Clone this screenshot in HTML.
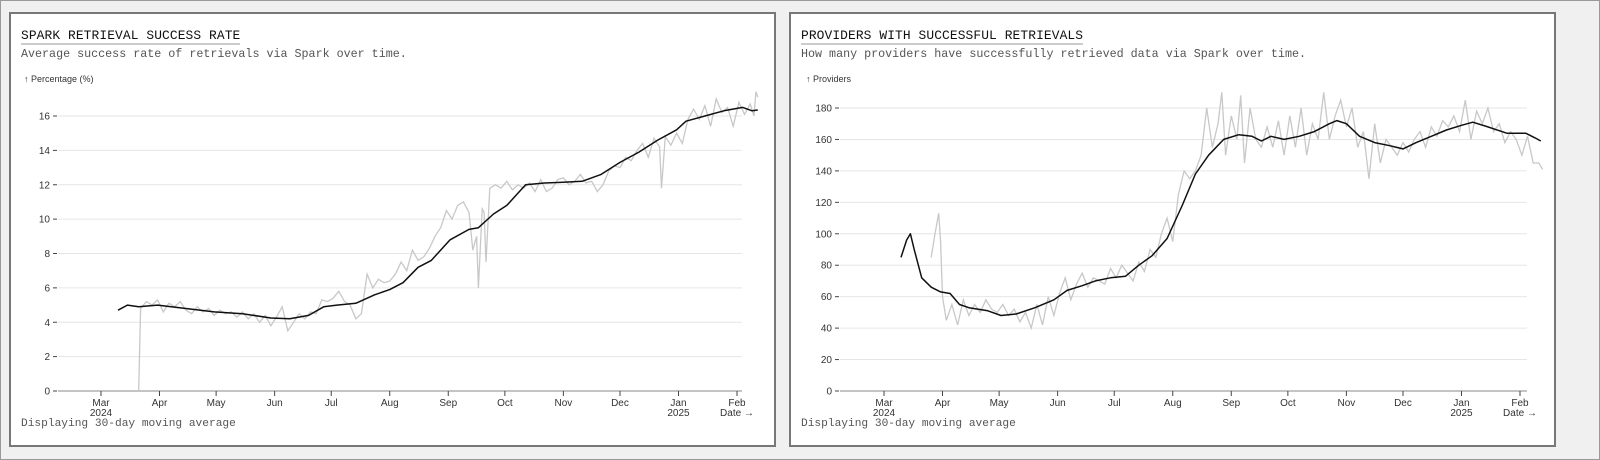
<!DOCTYPE html>
<html><head><meta charset="utf-8"><style>
body{margin:0;width:1600px;height:460px;background:#f0f0f0;position:relative;overflow:hidden;font-family:"Liberation Mono",monospace}
.frame{position:absolute;left:0;top:0;width:1598px;height:458px;border:1px solid #999}
.panel{position:absolute;top:12px;width:763px;height:431px;background:#fff;border:2px solid #777}
.title{position:absolute;left:10px;top:14px;font-size:12.9px;color:#111;border-bottom:2px solid #ccc;padding-bottom:0px;letter-spacing:0.1px}
.sub{position:absolute;left:10px;top:33px;font-size:11.7px;color:#555}
.foot{position:absolute;left:10px;top:404px;font-size:11.2px;color:#555}
svg{position:absolute;left:0;top:0}
</style></head><body>
<div class="frame"></div>
<div class="panel" style="left:9px">
<div class="title">SPARK RETRIEVAL SUCCESS RATE</div>
<div class="sub">Average success rate of retrievals via Spark over time.</div>
<div class="foot">Displaying 30-day moving average</div>
</div>
<div class="panel" style="left:789px">
<div class="title">PROVIDERS WITH SUCCESSFUL RETRIEVALS</div>
<div class="sub">How many providers have successfully retrieved data via Spark over time.</div>
<div class="foot">Displaying 30-day moving average</div>
</div>
<svg id="chart" width="1600" height="460"></svg>
<script>
// days since 2024-03-01
const monthLabels=["Mar","Apr","May","Jun","Jul","Aug","Sep","Oct","Nov","Dec","Jan","Feb"];
const monthDays=[0,31,61,92,122,153,184,214,245,275,306,337];
const monthSub=["2024","","","","","","","","","","2025","Date →"];

const rateMaDays=[9,14,20,30,45,60,75,90,100,110,118,125,135,145,153,160,168,175,185,195,200,208,215,225,235,245,255,265,275,285,295,305,310,320,330,340,345,348];
const rateMaVals=[4.7,5.0,4.9,5.0,4.8,4.6,4.5,4.25,4.2,4.4,4.9,5.0,5.1,5.6,5.9,6.3,7.2,7.6,8.8,9.4,9.5,10.3,10.8,12.0,12.1,12.15,12.2,12.6,13.3,13.9,14.6,15.2,15.7,16.0,16.3,16.5,16.3,16.35];
const rateRawDays=[20,21,24,27,30,33,36,39,42,45,48,51,54,57,60,63,66,69,72,75,78,81,84,87,90,93,96,99,102,105,108,111,114,117,120,123,126,129,132,135,138,141,144,147,150,153,156,159,162,165,168,171,174,177,180,183,186,189,192,195,197,199,200,202,203,204,206,209,212,215,218,221,224,227,230,233,236,239,242,245,248,251,254,257,260,263,266,269,272,275,278,281,284,287,290,293,296,297,299,302,305,308,311,314,317,320,323,326,329,332,335,338,341,344,346,347,348];
const rateRawVals=[0,4.8,5.2,5.0,5.3,4.6,5.1,4.9,5.2,4.7,4.5,4.9,4.6,4.8,4.4,4.7,4.5,4.6,4.3,4.6,4.2,4.5,4.0,4.4,3.8,4.3,4.9,3.5,4.0,4.5,4.2,4.6,4.5,5.3,5.2,5.4,5.8,5.2,5.0,4.2,4.5,6.8,6.0,6.5,6.3,6.4,6.8,7.5,7.0,8.2,7.6,7.8,8.3,9.0,9.5,10.5,10.0,10.8,11.0,10.4,8.2,9.0,6.0,10.6,10.4,7.5,11.8,12.0,11.8,12.2,11.7,12.0,11.8,12.1,11.6,12.3,11.6,11.8,12.3,12.4,12.0,12.2,12.6,12.1,12.2,11.6,12.0,12.8,13.1,13.0,13.6,13.4,14.0,14.4,13.6,14.7,14.2,11.8,14.8,14.3,15.0,14.4,15.8,16.4,15.8,16.6,15.4,17.0,16.2,16.5,15.4,16.8,16.1,16.7,16.0,17.4,17.1];
const rateTicks=[0,2,4,6,8,10,12,14,16];

const provMaDays=[9,12,14,16,20,25,30,35,40,45,55,62,70,80,90,97,105,112,120,128,135,142,150,158,165,172,180,188,195,200,205,212,220,228,236,240,245,252,260,268,275,282,290,298,306,312,320,330,340,345,348];
const provMaVals=[85,96,100,90,72,66,63,62,55,53,51,48,49,53,58,64,67,70,72,73,80,86,97,118,138,150,160,163,162,159,162,160,162,165,170,172,170,162,158,156,154,158,162,166,169,171,168,164,164,161,159];
const provRawDays=[25,27,29,30,31,33,36,39,42,45,48,51,54,57,60,63,66,69,72,75,78,81,84,87,90,93,96,99,102,105,108,111,114,117,120,123,126,129,132,135,138,141,144,147,150,153,156,159,162,165,168,171,174,177,179,181,184,187,189,191,194,197,200,203,206,209,212,215,218,221,224,227,230,233,236,239,242,245,248,251,254,257,260,263,266,269,272,275,278,281,284,287,290,293,296,299,302,305,308,311,314,317,320,323,326,329,332,335,338,341,344,347,349];
const provRawVals=[85,100,113,95,60,45,55,42,58,48,55,50,58,52,50,55,48,52,44,50,40,55,42,60,48,62,72,58,68,75,66,72,70,68,78,72,80,75,70,82,76,90,85,100,110,95,125,140,135,140,150,180,155,170,190,150,175,160,188,145,180,160,155,168,155,172,150,175,155,180,150,170,160,190,160,175,185,168,180,155,165,135,170,145,160,155,150,158,152,160,165,155,168,162,172,168,175,165,185,160,178,170,180,165,170,158,165,160,150,162,145,145,141];
const provTicks=[0,20,40,60,80,100,120,140,160,180];

const NS="http://www.w3.org/2000/svg";
const svg=document.getElementById('chart');
function mk(tag,attrs,parent){const e=document.createElementNS(NS,tag);for(const k in attrs)e.setAttribute(k,attrs[k]);(parent||svg).appendChild(e);return e;}

function drawChart(o){
  const x=d=>o.x0+d*(o.x1-o.x0)/337;
  const y=v=>o.yBase-v*o.yScale;
  const g=mk('g',{});
  
  
  const yl=mk('text',{x:o.gl-34,y:82,'font-size':9,'font-family':'Liberation Sans, sans-serif',fill:'#333'},g);
  yl.textContent=o.yLabel;
  
  
  o.ticks.forEach(t=>{
    const ln=mk('line',{x1:o.gl,x2:o.gr,y1:y(t),y2:y(t),stroke:t===0?'#888':'#e6e6e6','stroke-width':1},g);
    
    
    mk('line',{x1:o.gl-5,x2:o.gl-1,y1:y(t),y2:y(t),stroke:'#444'},g);
    const tx=mk('text',{x:o.gl-8,y:y(t)+3.5,'font-size':10,'text-anchor':'end','font-family':'Liberation Sans, sans-serif',fill:'#333'},g);
    tx.textContent=t;
    
    
  });
  monthDays.forEach((d,i)=>{
    mk('line',{x1:x(d),x2:x(d),y1:y(0),y2:y(0)+5,stroke:'#444'},g);
    const t=mk('text',{x:x(d),y:y(0)+15,'font-size':10,'text-anchor':'middle','font-family':'Liberation Sans Narrow, Liberation Sans, sans-serif',fill:'#333'},g);
    t.textContent=monthLabels[i];
    
    
    if(monthSub[i]){
      const t2=mk('text',{x:x(d),y:y(0)+25,'font-size':10,'text-anchor':'middle','font-family':'Liberation Sans Narrow, Liberation Sans, sans-serif',fill:'#333'},g);
      t2.textContent=monthSub[i];
      
      
    }
  });
  const raw=mk('path',{d:o.rawD.map((d,i)=>(i?'L':'M')+x(d).toFixed(1)+','+y(o.rawV[i]).toFixed(1)).join(''),fill:'none',stroke:'#c8c8c8','stroke-width':1.3},g);
  
  
  const ma=mk('path',{d:o.maD.map((d,i)=>(i?'L':'M')+x(d).toFixed(1)+','+y(o.maV[i]).toFixed(1)).join(''),fill:'none',stroke:'#111','stroke-width':1.5,'stroke-linejoin':'round'},g);
  
  
}
drawChart({name:'success-rate-chart',x0:101,x1:737,gl:58,gr:742,yBase:391,yScale:275/16,ticks:rateTicks,yLabel:'↑ Percentage (%)',rawD:rateRawDays,rawV:rateRawVals,maD:rateMaDays,maV:rateMaVals});
drawChart({name:'providers-chart',x0:884,x1:1520,gl:840,gr:1527,yBase:391,yScale:283/180,ticks:provTicks,yLabel:'↑ Providers',rawD:provRawDays,rawV:provRawVals,maD:provMaDays,maV:provMaVals});
</script>
</body></html>
